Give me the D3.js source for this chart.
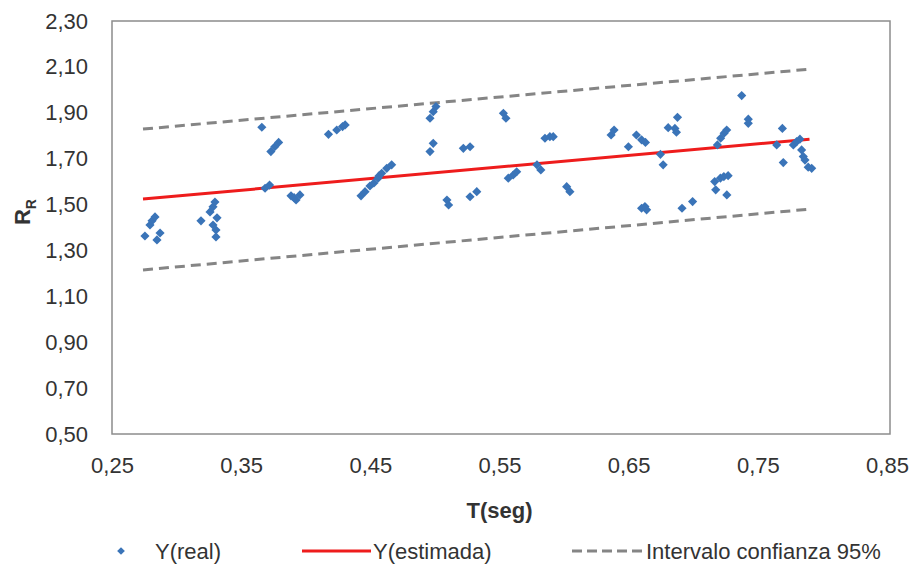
<!doctype html>
<html lang="es">
  <head>
    <meta charset="utf-8">
    <title>R_R vs T</title>
    <style>
      body { margin: 0; background: #fff; }
      text { font-family: "Liberation Sans", Arial, sans-serif; fill: #333; }
    </style>
  </head>
  <body>
    <div id="chart"></div>
    <script src="https://cdn.jsdelivr.net/npm/d3@7"></script>
    <script>

    // observed points: period T (s) and R_R
    var tReal = [0.2755, 0.2794, 0.281, 0.2833, 0.2848, 0.2872, 0.3189, 0.3259, 0.3282, 0.3297,
      0.3313, 0.3282, 0.3305, 0.3305, 0.366, 0.3685, 0.372, 0.373, 0.376, 0.379,
      0.3886, 0.3925, 0.3955, 0.391, 0.4176, 0.424, 0.4285, 0.4305, 0.4428, 0.4459,
      0.4497, 0.4528, 0.456, 0.4567, 0.4588, 0.4627, 0.4665, 0.4962, 0.4987, 0.5008,
      0.4962, 0.4987, 0.5093, 0.5106, 0.522, 0.5272, 0.5272, 0.5324, 0.553, 0.555,
      0.5568, 0.5606, 0.5633, 0.579, 0.582, 0.5852, 0.589, 0.5916, 0.602, 0.6045,
      0.6364, 0.6387, 0.6498, 0.656, 0.66, 0.663, 0.66, 0.6639, 0.6626, 0.6746,
      0.6767, 0.6806, 0.6858, 0.687, 0.6878, 0.6913, 0.6995, 0.7166, 0.7174, 0.721,
      0.7237, 0.727, 0.726, 0.7187, 0.7212, 0.7239, 0.7259, 0.7375, 0.7426, 0.7426,
      0.769, 0.7646, 0.7697, 0.7775, 0.78, 0.7826, 0.7839, 0.7852, 0.7865, 0.789, 0.7917];
    var yReal = [1.363, 1.411, 1.429, 1.446, 1.346, 1.376, 1.429, 1.468, 1.49, 1.511,
      1.442, 1.411, 1.389, 1.359, 1.837, 1.571, 1.585, 1.731, 1.752, 1.771,
      1.538, 1.52, 1.542, 1.53, 1.806, 1.825, 1.84, 1.847, 1.538, 1.556,
      1.581, 1.594, 1.615, 1.625, 1.636, 1.658, 1.673, 1.876, 1.905, 1.927,
      1.731, 1.767, 1.52, 1.498, 1.745, 1.752, 1.534, 1.556, 1.898, 1.876,
      1.615, 1.629, 1.643, 1.673, 1.651, 1.789, 1.796, 1.796, 1.578, 1.556,
      1.803, 1.825, 1.752, 1.803, 1.782, 1.771, 1.484, 1.477, 1.491, 1.719,
      1.673, 1.835, 1.832, 1.815, 1.88, 1.484, 1.513, 1.6, 1.564, 1.615,
      1.622, 1.626, 1.542, 1.76, 1.789, 1.811, 1.825, 1.975, 1.872, 1.854,
      1.832, 1.76, 1.683, 1.76, 1.774, 1.785, 1.738, 1.709, 1.694, 1.663, 1.658];

    // fitted line and 95% band (end points)
    var tFit = [0.274, 0.79];
    var yFit = [1.524, 1.785];
    var yUpper = [1.829, 2.09];
    var yLower = [1.215, 1.48];

    var xTicks = [0.25, 0.35, 0.45, 0.55, 0.65, 0.75, 0.85];
    var yTicks = [0.5, 0.7, 0.9, 1.1, 1.3, 1.5, 1.7, 1.9, 2.1, 2.3];

    var W = 916, H = 568;
    var pL = 112, pR = 887, pT = 21, pB = 434;

    var svg = d3.select("#chart").append("svg")
        .attr("width", W)
        .attr("height", H);

    var x = d3.scaleLinear().domain([0.25, 0.85]).range([pL, pR]);
    var y = d3.scaleLinear().domain([0.5, 2.3]).range([pB, pT]);

    var fmt = d3.formatLocale({decimal: ",", thousands: ".", grouping: [3], currency: ["", ""]}).format(".2f");

    // plot frame
    svg.append("rect")
      .attr("x", pL).attr("y", pT)
      .attr("width", pR - pL + 3).attr("height", pB - pT)
      .attr("fill", "none")
      .attr("stroke", "#8c8c8c")
      .attr("stroke-width", 1.5);

    var xAxis = svg.append("g")
      .attr("transform", "translate(0," + pB + ")")
      .call(d3.axisBottom(x).tickValues(xTicks).tickFormat(fmt).tickSize(0).tickPadding(23));
    var yAxis = svg.append("g")
      .attr("transform", "translate(" + pL + ",0)")
      .call(d3.axisLeft(y).tickValues(yTicks).tickFormat(fmt).tickSize(0).tickPadding(24));
    [xAxis, yAxis].forEach(function(g){
      g.select(".domain").remove();
      g.selectAll("text")
        .style("font-family", "'Liberation Sans', Arial, sans-serif")
        .style("font-size", "22px")
        .attr("fill", "#2e2e2e");
    });

    // confidence band
    var dashed = [yUpper, yLower];
    svg.selectAll(".band")
      .data(dashed)
      .join("line")
      .attr("class", "band")
      .attr("x1", x(tFit[0])).attr("x2", x(tFit[1]))
      .attr("y1", function(d){ return y(d[0]); })
      .attr("y2", function(d){ return y(d[1]); })
      .attr("stroke", "#858585")
      .attr("stroke-width", 3)
      .attr("stroke-dasharray", "10,6");

    // fitted line
    svg.append("line")
      .attr("x1", x(tFit[0])).attr("x2", x(tFit[1]))
      .attr("y1", y(yFit[0])).attr("y2", y(yFit[1]))
      .attr("stroke", "#ee1c1c")
      .attr("stroke-width", 3);

    // points
    var diamond = d3.symbol().type(d3.symbolSquare).size(42);
    svg.selectAll(".pt")
      .data(tReal)
      .join("path")
      .attr("class", "pt")
      .attr("d", diamond)
      .attr("transform", function(d, i){ return "translate(" + x(d) + "," + y(yReal[i]) + ") rotate(45)"; })
      .attr("fill", "#3a74b8");

    // axis titles
    svg.append("text")
      .attr("x", (pL + pR) / 2).attr("y", 518)
      .attr("text-anchor", "middle")
      .style("font-size", "22px").style("font-weight", "bold")
      .text("T(seg)");

    var yt = svg.append("text")
      .attr("transform", "translate(30,212) rotate(-90)")
      .attr("text-anchor", "middle")
      .style("font-size", "22px").style("font-weight", "bold");
    yt.append("tspan").text("R");
    yt.append("tspan").attr("dy", 6).style("font-size", "14px").text("R");

    // legend
    var lg = svg.append("g").attr("transform", "translate(0,551)");
    lg.append("path")
      .attr("d", d3.symbol().type(d3.symbolSquare).size(30))
      .attr("transform", "translate(121,0) rotate(45)")
      .attr("fill", "#3a74b8");
    lg.append("text").attr("x", 155).attr("y", 8).style("font-size", "22px").text("Y(real)");
    lg.append("line").attr("x1", 302).attr("x2", 371).attr("y1", 0).attr("y2", 0)
      .attr("stroke", "#ee1c1c").attr("stroke-width", 3);
    lg.append("text").attr("x", 373).attr("y", 8).style("font-size", "22px").text("Y(estimada)");
    lg.append("line").attr("x1", 572).attr("x2", 642).attr("y1", 0).attr("y2", 0)
      .attr("stroke", "#858585").attr("stroke-width", 3).attr("stroke-dasharray", "10,5");
    lg.append("text").attr("x", 646).attr("y", 8).style("font-size", "22px").text("Intervalo confianza 95%");

    </script>
  </body>
</html>
